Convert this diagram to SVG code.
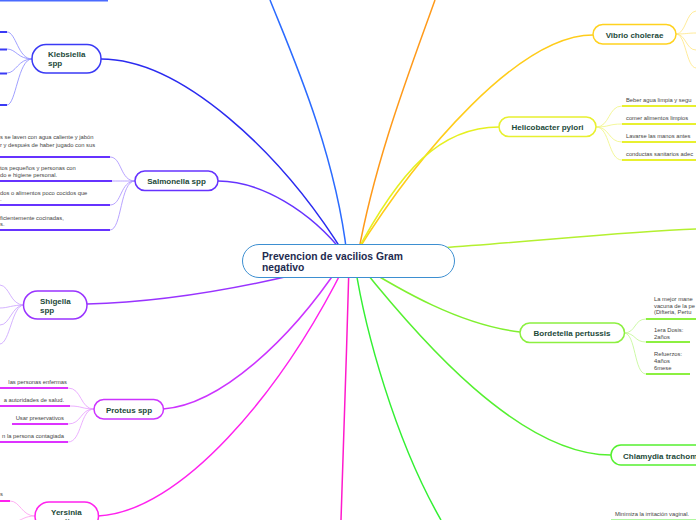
<svg xmlns="http://www.w3.org/2000/svg" width="696" height="520" viewBox="0 0 696 520">
<style>
.node{fill:#fff;stroke-width:1.5}
.lbl{font-family:"Liberation Sans",Arial,sans-serif;font-weight:bold;font-size:8px;fill:#1d4a3a}
.ctr{font-family:"Liberation Sans",Arial,sans-serif;font-weight:bold;font-size:10.3px;fill:#1e2b4f}
.it{font-family:"Liberation Sans",Arial,sans-serif;font-size:5.8px;fill:#444}
.c{fill:none;stroke-width:1.5}
.s{fill:none;stroke-width:0.8}
.u{fill:none;stroke-width:2}
</style>
<rect width="696" height="520" fill="#fff"/>
<g id="connectors">
  <path class="c" stroke="#2b2bf0" d="M101,59 C180,59 280,150 345,255"/>
  <path class="c" stroke="#2b6bff" d="M270,0 C290,50 335,150 347,255"/>
  <path class="c" stroke="#ff9a1a" d="M435,0 C410,70 375,160 358,255"/>
  <path class="c" stroke="#ffcc1a" d="M593,35 C520,35 420,150 355,255"/>
  <path class="c" stroke="#e6f020" d="M499,127 C440,127 400,170 355,255"/>
  <path class="c" stroke="#b4f030" d="M440,248 C540,241 620,232 696,229"/>
  <path class="c" stroke="#80f030" d="M355,262 C400,290 460,325 520,332"/>
  <path class="c" stroke="#55f030" d="M360,265 C420,340 520,455 611,455"/>
  <path class="c" stroke="#33f033" d="M355,265 C365,330 395,440 441,520"/>
  <path class="c" stroke="#ff1acc" d="M349,265 C347,350 343,440 341,520"/>
  <path class="c" stroke="#ff22ee" d="M98,516 C180,512 280,395 345,265"/>
  <path class="c" stroke="#cc33ff" d="M163,409 C220,405 290,340 340,265"/>
  <path class="c" stroke="#9933ff" d="M87,304 C170,302 260,285 345,262"/>
  <path class="c" stroke="#6633ff" d="M218,181 C260,181 310,210 345,255"/>
  <line class="u" stroke="#4a6bff" x1="0" y1="0.5" x2="108" y2="0.5"/>
  <g stroke="#8888ff">
    <path class="s" d="M32,59 C18,59 16,32 7,32"/>
    <path class="s" d="M32,59 C18,59 16,49 7,49"/>
    <path class="s" d="M32,59 C18,59 16,73 7,73"/>
    <path class="s" d="M32,59 C18,59 16,105 7,105"/>
  </g>
  <g stroke="#3a3af5">
    <line class="u" x1="0" y1="32" x2="7" y2="32"/>
    <line class="u" x1="0" y1="49.5" x2="7" y2="49.5"/>
    <line class="u" x1="0" y1="73.5" x2="7" y2="73.5"/>
    <line class="u" x1="0" y1="105" x2="7" y2="105"/>
  </g>
  <g stroke="#a68cff">
    <path class="s" d="M135,181 C120,181 122,157 110,157"/>
    <path class="s" d="M135,181 C122,181 122,181 112,181"/>
    <path class="s" d="M135,181 C120,181 122,205 110,205"/>
    <path class="s" d="M135,181 C120,181 122,230 110,230"/>
  </g>
  <g stroke="#6633ff">
    <line class="u" x1="0" y1="157" x2="110" y2="157"/>
    <line class="u" x1="0" y1="181" x2="112" y2="181"/>
    <line class="u" x1="0" y1="205" x2="110" y2="205"/>
    <line class="u" x1="0" y1="230" x2="110" y2="230"/>
  </g>
  <g stroke="#c9a0ff">
    <path class="s" d="M24,305 C10,305 10,286 0,285"/>
    <path class="s" d="M24,305 C12,305 8,308 0,308"/>
    <path class="s" d="M24,305 C12,305 10,325 0,325"/>
    <path class="s" d="M24,305 C12,305 10,343 0,344"/>
  </g>
  <g stroke="#e69cff">
    <path class="s" d="M94,409 C80,409 82,388 68,388"/>
    <path class="s" d="M94,409 C82,409 82,406 70,406"/>
    <path class="s" d="M94,409 C80,409 82,424 68,424"/>
    <path class="s" d="M94,409 C80,409 82,442 68,442"/>
  </g>
  <g stroke="#dd33ff">
    <line class="u" x1="0" y1="388" x2="68" y2="388"/>
    <line class="u" x1="0" y1="406" x2="70" y2="406"/>
    <line class="u" x1="12" y1="424" x2="68" y2="424"/>
    <line class="u" x1="0" y1="442" x2="68" y2="442"/>
  </g>
  <g stroke="#ff9cf0">
    <path class="s" d="M35,516 C22,516 20,501 10,501"/>
    <path class="s" d="M35,516 C25,516 22,520 15,522"/>
  </g>
  <line class="u" stroke="#ff22ee" x1="0" y1="501" x2="10" y2="501"/>
  <g stroke="#ffe680">
    <path class="s" d="M676,34 C686,34 686,12 696,11"/>
    <path class="s" d="M676,34 C686,34 688,33 696,33"/>
    <path class="s" d="M676,34 C686,34 686,50 696,50"/>
    <path class="s" d="M676,34 C686,34 686,67 696,68"/>
  </g>
  <g stroke="#f0f580">
    <path class="s" d="M596,127 C610,127 608,106 622,106"/>
    <path class="s" d="M596,127 C610,127 608,124 622,124"/>
    <path class="s" d="M596,127 C610,127 608,142 622,142"/>
    <path class="s" d="M596,127 C610,127 608,160 622,160"/>
  </g>
  <g stroke="#e8f030">
    <line class="u" x1="622" y1="106" x2="696" y2="106"/>
    <line class="u" x1="622" y1="124" x2="696" y2="124"/>
    <line class="u" x1="622" y1="142" x2="696" y2="142"/>
    <line class="u" x1="622" y1="160" x2="696" y2="160"/>
  </g>
  <g stroke="#c0f890">
    <path class="s" d="M624,333 C636,333 634,319 646,319"/>
    <path class="s" d="M624,333 C636,333 634,342 646,342"/>
    <path class="s" d="M624,333 C636,333 634,374 646,374"/>
  </g>
  <g stroke="#8cf040">
    <line class="u" x1="646" y1="319" x2="696" y2="319"/>
    <line class="u" x1="646" y1="342" x2="690" y2="342"/>
    <line class="u" x1="646" y1="374" x2="690" y2="374"/>
  </g>
  <line stroke="#b0f8a0" stroke-width="1.2" x1="611" y1="519.5" x2="696" y2="519.5"/>
</g>
<g id="center">
  <rect x="242.5" y="244.5" width="212" height="33" rx="16.5" fill="#fff" stroke="#3d8fd1" stroke-width="1"/>
  <text class="ctr" x="262" y="259.5">Prevencion de vacilios Gram</text>
  <text class="ctr" x="262" y="270.5">negativo</text>
</g>
<g id="klebsiella">
  <rect class="node" x="32" y="44.5" width="69" height="28.5" rx="14" stroke="#3a3af5"/>
  <text class="lbl" x="48" y="57">Klebsiella</text>
  <text class="lbl" x="48" y="66">spp</text>
</g>
<g id="salmonella">
  <rect class="node" x="135" y="171" width="83" height="19.5" rx="9.75" stroke="#6633ff"/>
  <text class="lbl" x="176.5" y="184" text-anchor="middle">Salmonella spp</text>
  <text class="it" x="0" y="139">s se laven con agua caliente y jabón</text>
  <text class="it" x="0" y="147">r y después de haber jugado con sus</text>
  <text class="it" x="0" y="170">tos pequeños y personas con</text>
  <text class="it" x="0" y="177">do e higiene personal.</text>
  <text class="it" x="0" y="195">dos o alimentos poco cocidos que</text>
  <text class="it" x="0" y="201">.</text>
  <text class="it" x="0" y="219.5">ficientemente cocinadas,</text>
  <text class="it" x="0" y="226">s.</text>
</g>
<g id="shigella">
  <rect class="node" x="23.5" y="291" width="63.5" height="28" rx="14" stroke="#9933ff"/>
  <text class="lbl" x="40" y="303.5">Shigella</text>
  <text class="lbl" x="40" y="312.5">spp</text>
</g>
<g id="proteus">
  <rect class="node" x="94" y="399.5" width="69.5" height="19.5" rx="9.75" stroke="#cc33ff"/>
  <text class="lbl" x="129" y="412.5" text-anchor="middle">Proteus spp</text>
  <text class="it" x="67" y="384" text-anchor="end">las personas enfermas</text>
  <text class="it" x="64" y="402" text-anchor="end">a autoridades de salud.</text>
  <text class="it" x="64" y="420" text-anchor="end">Usar preservativos</text>
  <text class="it" x="64" y="438" text-anchor="end">n la persona contagiada</text>
</g>
<g id="yersinia">
  <rect class="node" x="35" y="502" width="63.5" height="28" rx="14" stroke="#ff22ee"/>
  <text class="lbl" x="51" y="515">Yersinia</text>
  <text class="lbl" x="51" y="524">pestis</text>
  <text class="it" x="0" y="496">s</text>
</g>
<g id="vibrio">
  <rect class="node" x="593" y="24.5" width="83" height="19.5" rx="9.75" stroke="#ffd21f"/>
  <text class="lbl" x="634.5" y="37.5" text-anchor="middle">Vibrio cholerae</text>
</g>
<g id="helicobacter">
  <rect class="node" x="499" y="117" width="97" height="19.5" rx="9.75" stroke="#e8f030"/>
  <text class="lbl" x="547.5" y="130" text-anchor="middle">Helicobacter pylori</text>
  <text class="it" x="626" y="101.5">Beber agua limpia y segu</text>
  <text class="it" x="626" y="120">comer alimentos limpios</text>
  <text class="it" x="626" y="138">Lavarse las manos antes</text>
  <text class="it" x="626" y="156">conductas sanitarios adec</text>
</g>
<g id="bordetella">
  <rect class="node" x="520" y="323" width="104.5" height="19.5" rx="9.75" stroke="#8cf040"/>
  <text class="lbl" x="572" y="336" text-anchor="middle">Bordetella pertussis</text>
  <text class="it" x="654" y="301">La mejor mane</text>
  <text class="it" x="654" y="307.5">vacuna de la pe</text>
  <text class="it" x="654" y="314">(Difteria, Pertu</text>
  <text class="it" x="654" y="332">1era Dosis:</text>
  <text class="it" x="654" y="338.5">2años</text>
  <text class="it" x="654" y="356">Refuerzos:</text>
  <text class="it" x="654" y="363">4años</text>
  <text class="it" x="654" y="369.5">6mese</text>
</g>
<g id="chlamydia">
  <rect class="node" x="611" y="445" width="100" height="20" rx="10" stroke="#55f030"/>
  <text class="lbl" x="623" y="458.5">Chlamydia trachom</text>
  <text class="it" x="615" y="515.5">Minimiza la irritación vaginal.</text>
</g>
</svg>
